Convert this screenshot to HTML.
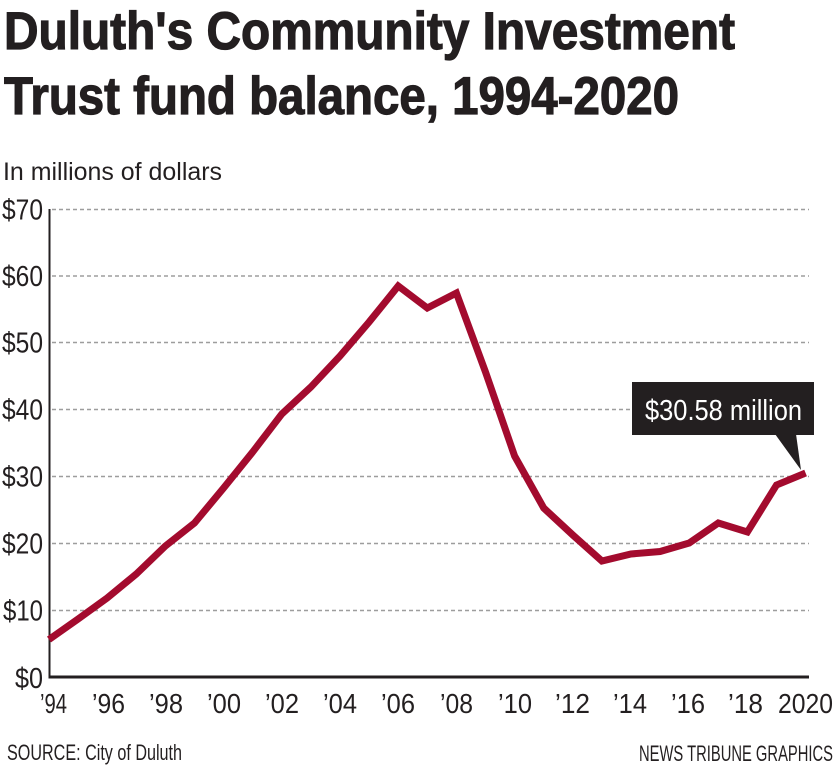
<!DOCTYPE html>
<html>
<head>
<meta charset="utf-8">
<style>
  html, body { margin: 0; padding: 0; background: #ffffff; }
  body { width: 840px; height: 769px; overflow: hidden; }
  svg { display: block; }
  .title { font-family: "Liberation Sans Narrow", "Liberation Sans", sans-serif; font-weight: bold; font-size: 53px; fill: #231f20; stroke: #231f20; stroke-width: 1.2; }
  .lab { font-family: "Liberation Sans Narrow", "Liberation Sans", sans-serif; fill: #231f20; }
</style>
</head>
<body>
<svg width="840" height="769" viewBox="0 0 840 769" xmlns="http://www.w3.org/2000/svg">
  <rect x="0" y="0" width="840" height="769" fill="#ffffff"/>

  <!-- Title -->
  <text class="title" x="4" y="49" textLength="731" lengthAdjust="spacingAndGlyphs">Duluth's Community Investment</text>
  <text class="title" x="4" y="114" textLength="675" lengthAdjust="spacingAndGlyphs">Trust fund balance, 1994-2020</text>

  <!-- Subtitle -->
  <text class="lab" x="3" y="180" font-size="25" textLength="219" lengthAdjust="spacingAndGlyphs">In millions of dollars</text>

  <!-- Gridlines -->
  <g stroke="#9d9d9d" stroke-width="1.5" stroke-dasharray="4 3" fill="none">
    <line x1="52" y1="209.5" x2="809" y2="209.5"/>
    <line x1="52" y1="276" x2="809" y2="276"/>
    <line x1="52" y1="342.5" x2="809" y2="342.5"/>
    <line x1="52" y1="409.5" x2="809" y2="409.5"/>
    <line x1="52" y1="476.5" x2="809" y2="476.5"/>
    <line x1="52" y1="543.5" x2="809" y2="543.5"/>
    <line x1="52" y1="610.5" x2="809" y2="610.5"/>
  </g>

  <!-- Axes -->
  <line x1="49.5" y1="209" x2="49.5" y2="678" stroke="#231f20" stroke-width="2"/>
  <line x1="48.5" y1="677" x2="809" y2="677" stroke="#231f20" stroke-width="3"/>

  <!-- Y labels -->
  <g class="lab" font-size="29">
    <text x="2" y="219.5" textLength="41" lengthAdjust="spacingAndGlyphs">$70</text>
    <text x="2" y="286" textLength="41" lengthAdjust="spacingAndGlyphs">$60</text>
    <text x="2" y="352.5" textLength="41" lengthAdjust="spacingAndGlyphs">$50</text>
    <text x="2" y="419.5" textLength="41" lengthAdjust="spacingAndGlyphs">$40</text>
    <text x="2" y="486.5" textLength="41" lengthAdjust="spacingAndGlyphs">$30</text>
    <text x="2" y="553.5" textLength="41" lengthAdjust="spacingAndGlyphs">$20</text>
    <text x="3" y="620.5" textLength="40" lengthAdjust="spacingAndGlyphs">$10</text>
    <text x="15" y="688" textLength="28" lengthAdjust="spacingAndGlyphs">$0</text>
  </g>

  <!-- X labels -->
  <g class="lab" font-size="28">
    <text x="40" y="713" textLength="27" lengthAdjust="spacingAndGlyphs">’94</text>
    <text x="92" y="713" textLength="33" lengthAdjust="spacingAndGlyphs">’96</text>
    <text x="149" y="713" textLength="34" lengthAdjust="spacingAndGlyphs">’98</text>
    <text x="207" y="713" textLength="34" lengthAdjust="spacingAndGlyphs">’00</text>
    <text x="265" y="713" textLength="34" lengthAdjust="spacingAndGlyphs">’02</text>
    <text x="323" y="713" textLength="34" lengthAdjust="spacingAndGlyphs">’04</text>
    <text x="381" y="713" textLength="34" lengthAdjust="spacingAndGlyphs">’06</text>
    <text x="440" y="713" textLength="33" lengthAdjust="spacingAndGlyphs">’08</text>
    <text x="498" y="713" textLength="34" lengthAdjust="spacingAndGlyphs">’10</text>
    <text x="555" y="713" textLength="35" lengthAdjust="spacingAndGlyphs">’12</text>
    <text x="613" y="713" textLength="34" lengthAdjust="spacingAndGlyphs">’14</text>
    <text x="671" y="713" textLength="34" lengthAdjust="spacingAndGlyphs">’16</text>
    <text x="728" y="713" textLength="35" lengthAdjust="spacingAndGlyphs">’18</text>
    <text x="778" y="713" textLength="55" lengthAdjust="spacingAndGlyphs">2020</text>
  </g>

  <!-- Data line -->
  <polyline fill="none" stroke="#a30b2e" stroke-width="7" stroke-linejoin="miter" stroke-miterlimit="10" stroke-linecap="butt"
    points="49,639.5 78.1,619 107.2,598 136.3,574 165.4,546 194.5,523 223.6,488 252.7,452 281.8,414 310.9,387 340,356 369.1,322 398.2,286 427.3,308 456.4,293 485.5,372 514.6,456 543.7,508 572.8,535 601.9,561 631,554 660.1,551.5 689.2,543 718.3,523 747.4,532 776.5,485 805.6,473"/>

  <!-- Callout -->
  <rect x="632" y="382" width="182" height="53" fill="#231f20"/>
  <polygon points="775,434 796,434 801,470" fill="#231f20"/>
  <text x="645" y="420" font-family="'Liberation Sans Narrow', 'Liberation Sans', sans-serif" font-size="29" fill="#ffffff" textLength="157" lengthAdjust="spacingAndGlyphs">$30.58 million</text>

  <!-- Footer -->
  <text class="lab" x="7" y="760" font-size="22" textLength="175" lengthAdjust="spacingAndGlyphs">SOURCE: City of Duluth</text>
  <text class="lab" x="639" y="761" font-size="22" textLength="194" lengthAdjust="spacingAndGlyphs">NEWS TRIBUNE GRAPHICS</text>
</svg>
</body>
</html>
